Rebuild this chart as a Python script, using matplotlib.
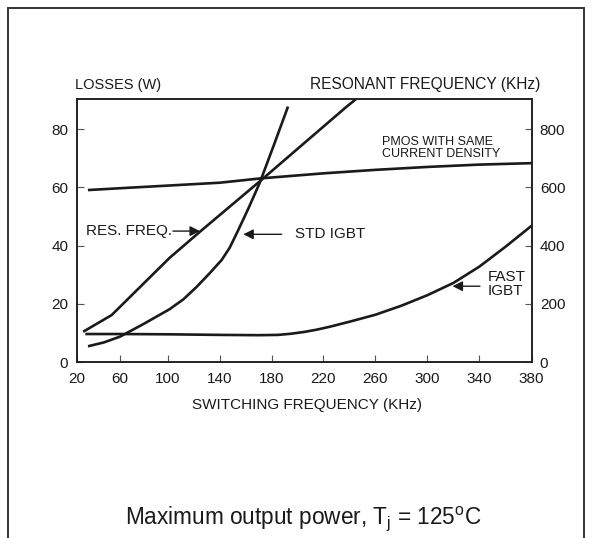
import numpy as np
import matplotlib
matplotlib.use('Agg')
from matplotlib import pyplot as plt
from matplotlib.patches import Rectangle

plt.rcParams['font.family'] = ['Liberation Sans', 'DejaVu Sans']
plt.rcParams['mathtext.fontset'] = 'custom'
plt.rcParams['mathtext.rm'] = 'Liberation Sans'

# switching frequency axis of the original is not quite linear at the low end
axis_khz = [20, 60, 100, 140, 180, 220, 260, 300, 340, 380]
axis_pos = [0.0, 43.3, 91.0, 143.3, 195.0, 246.6, 298.6, 350.6, 402.6, 454.8]

# losses (W), left axis
pmos_f = [31.6, 60, 100, 140, 172, 220, 260, 300, 340, 380]
pmos_w = [59.1, 59.7, 60.6, 61.6, 63.1, 64.8, 66.0, 67.0, 67.8, 68.3]

std_f = [31.6, 45, 60, 80, 101.4, 112, 122.2, 132, 141.3, 147.5, 152.9,
         158, 162, 170.6, 181.6, 192.3]
std_w = [5.6, 6.8, 8.8, 13.2, 18.2, 21.6, 25.9, 30.5, 35.1, 39.3, 44.2,
         49.0, 52.8, 61.4, 74.4, 87.3]

fast_f = [29.2, 60, 100, 140, 170, 185, 195, 205, 215, 225, 240, 260, 280,
          300, 320, 340, 360, 380]
fast_w = [9.7, 9.7, 9.6, 9.4, 9.3, 9.4, 9.8, 10.4, 11.2, 12.2, 13.9, 16.3, 19.4,
          23.0, 27.2, 32.8, 39.6, 46.8]

# resonant frequency (KHz), right axis
res_f = [27, 52.3, 101.4, 124.7, 170.6, 238, 245]
res_khz = [107, 162, 358, 448, 620, 877, 902]

ink = '#1a1a1a'


def fwd(x):
    return np.interp(x, axis_khz, axis_pos)


def inv(p):
    return np.interp(p, axis_pos, axis_khz)


fig = plt.figure(figsize=(5.93, 5.38), dpi=100)
ax = fig.add_axes([76.7 / 593, 1 - 362.3 / 538, 454.8 / 593, 263.0 / 538])
ax.set_xscale('function', functions=(fwd, inv))
ax.set_xlim(20, 380)
ax.set_ylim(0, 90.2)

ax.plot(pmos_f, pmos_w, color=ink, lw=1.9, solid_joinstyle='round')
ax.plot(std_f, std_w, color=ink, lw=1.9, solid_joinstyle='round')
ax.plot(fast_f, fast_w, color=ink, lw=1.9, solid_joinstyle='round')

ax2 = ax.twinx()
ax2.set_ylim(0, 902)
ax2.plot(res_f, res_khz, color=ink, lw=1.9, solid_joinstyle='round')

ax.set_xticks(axis_khz)
ax.set_xticklabels([str(v) for v in axis_khz])
ax.set_yticks([0, 20, 40, 60, 80])
ax2.set_yticks([0, 200, 400, 600, 800])
ax.tick_params(axis='both', direction='in', length=5, width=0.8, color='#555555',
               labelsize=11, labelcolor=ink)
ax.tick_params(axis='x', pad=7)
ax.tick_params(axis='y', pad=6)
ax2.tick_params(axis='y', direction='in', length=5, width=0.8, color='#555555',
                labelsize=11, labelcolor=ink, pad=6)
for a in (ax, ax2):
    for s in a.spines.values():
        s.set_linewidth(1.2)
        s.set_color('#222222')

# curve labels and arrows
arrow = dict(arrowstyle='-|>', color=ink, lw=1.0, mutation_scale=15, shrinkA=0, shrinkB=0)
ax.text(28.6, 45.0, 'RES. FREQ.', fontsize=11, color=ink, ha='left', va='center')
ax.annotate('', xy=(124.7, 45.0), xytext=(104, 45.0), arrowprops=arrow)
ax.text(198, 43.9, 'STD IGBT', fontsize=11, color=ink, ha='left', va='center')
ax.annotate('', xy=(158, 43.9), xytext=(187.7, 43.9), arrowprops=arrow)
ax.text(346.1, 26.8, 'FAST\nIGBT', fontsize=11, color=ink, ha='left', va='center',
        linespacing=0.95)
ax.annotate('', xy=(319.4, 26.1), xytext=(340.5, 26.1), arrowprops=arrow)
ax.text(264.9, 73.5, 'PMOS WITH SAME\nCURRENT DENSITY', fontsize=9, color=ink,
        ha='left', va='center', linespacing=1.0)

fig.text(75 / 593, 1 - 85 / 538, 'LOSSES (W)', fontsize=10.5, color=ink, ha='left', va='center')
fig.text(540 / 593, 1 - 85 / 538, 'RESONANT FREQUENCY (KHz)', fontsize=11.2, color=ink,
         ha='right', va='center')
fig.text(307 / 593, 1 - 405 / 538, 'SWITCHING FREQUENCY (KHz)', fontsize=11, color=ink,
         ha='center', va='center')
fig.text(303 / 593, 1 - 524 / 538,
         r'Maximum output power, T$_\mathregular{j}$ = 125$^\mathregular{o}$C',
         fontsize=16.3, color=ink, ha='center', va='baseline')

# outer frame, open at the bottom edge of the picture
fig.patches.append(Rectangle((8 / 593, -0.05), 576 / 593, 1.05 - 8 / 538,
                             transform=fig.transFigure, fill=False,
                             edgecolor='#333333', lw=1.4))

fig.savefig('out.png', dpi=100)
